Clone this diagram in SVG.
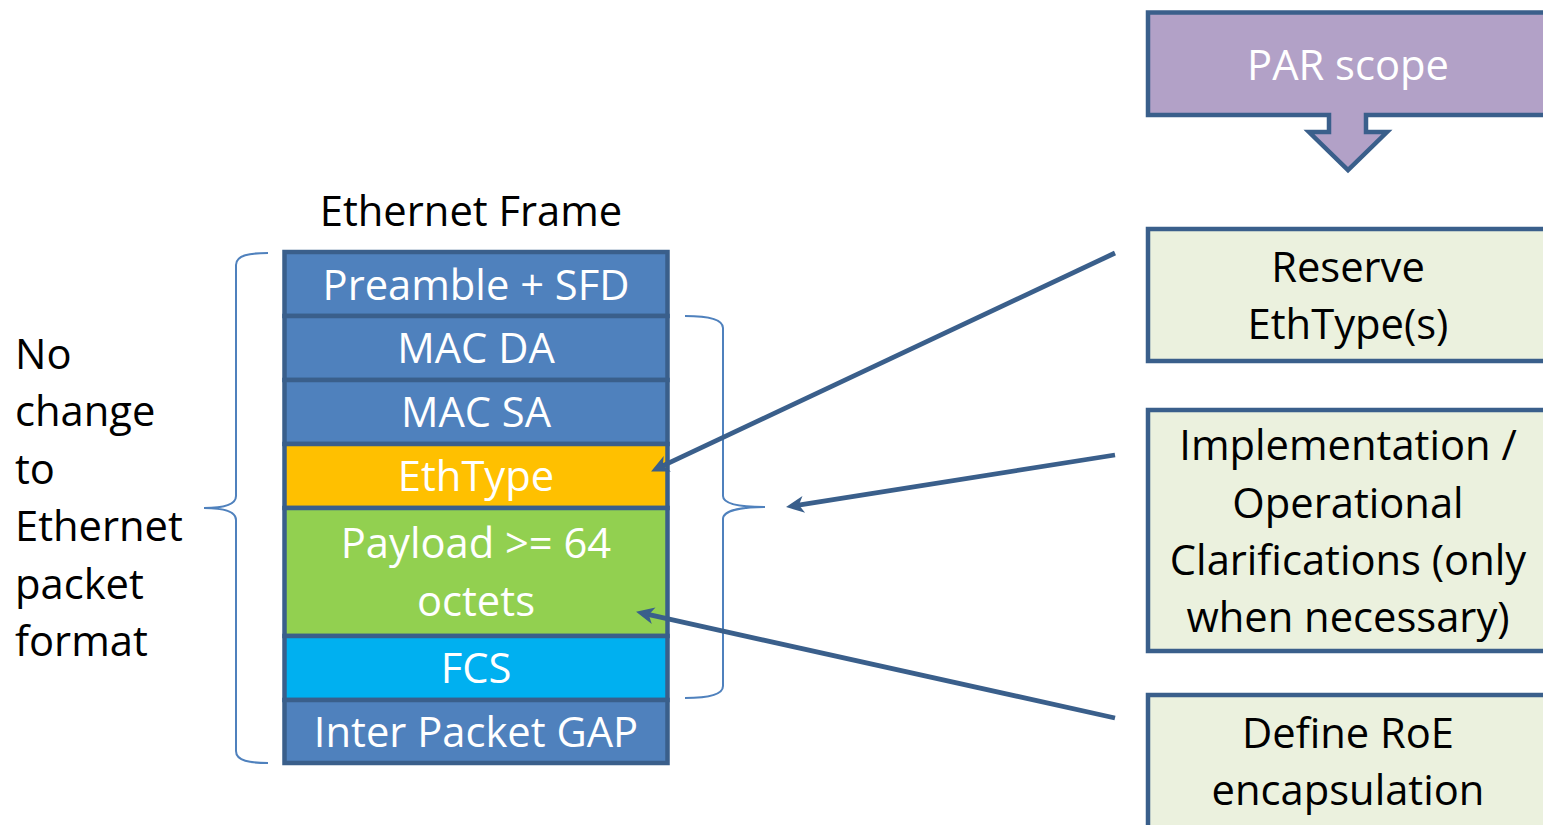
<svg xmlns="http://www.w3.org/2000/svg" width="1543" height="825" viewBox="0 0 1543 825">
<style>
text{font-family:"Open Sans","Noto Sans",sans-serif;font-size:41.7px;text-anchor:middle}
.w{fill:#ffffff}
.k{fill:#000000}
.row{stroke:#3a5f8b;stroke-width:4.5}
.blue{fill:#4f81bd}
.box{fill:#ebf1de;stroke:#3a5f8b;stroke-width:4.5}
.brace{fill:none;stroke:#4f81bd;stroke-width:2}
.arrow{fill:none;stroke:#3a5f8b;stroke-width:4.8}
</style>
<defs>
<marker id="ah" markerUnits="userSpaceOnUse" markerWidth="22" markerHeight="20" refX="7" refY="0" viewBox="0 -10 22 20" orient="auto" overflow="visible">
<path d="M0,-8.5 L18,0 L0,8.5 L5,0 Z" fill="#3a5f8b"/>
</marker>
</defs>
<rect width="1543" height="825" fill="#ffffff"/>

<g id="par-scope">
<path d="M1148,12.5 H1560 V115 H1366 V132 H1387 L1348,170 L1309,132 H1329 V115 H1148 Z" fill="#b2a1c7" stroke="#3a5f8b" stroke-width="4.5"/>
<text class="w" x="1348" y="80">PAR scope</text>
</g>

<g id="frame-title"><text class="k" x="471" y="226">Ethernet Frame</text></g>

<g id="row-preamble"><rect class="row blue" x="284.5" y="252" width="383" height="64"/><text class="w" x="476" y="300">Preamble + SFD</text></g>
<g id="row-macda"><rect class="row blue" x="284.5" y="316" width="383" height="64"/><text class="w" x="476" y="363">MAC DA</text></g>
<g id="row-macsa"><rect class="row blue" x="284.5" y="380" width="383" height="64"/><text class="w" x="476" y="427">MAC SA</text></g>
<g id="row-ethtype"><rect class="row" fill="#ffc000" x="284.5" y="444" width="383" height="64"/><text class="w" x="476" y="491">EthType</text></g>
<g id="row-payload"><rect class="row" fill="#92d050" x="284.5" y="508" width="383" height="128"/><text class="w" x="476" y="558">Payload &gt;= 64</text><text class="w" x="476" y="616">octets</text></g>
<g id="row-fcs"><rect class="row" fill="#00b0f0" x="284.5" y="636" width="383" height="64"/><text class="w" x="476" y="683">FCS</text></g>
<g id="row-ipg"><rect class="row blue" x="284.5" y="700" width="383" height="63"/><text class="w" x="476" y="747">Inter Packet GAP</text></g>

<g id="left-label">
<path class="brace" d="M268,253 C250,253 236,255 236,265 V496 C236,504 225,508 204,508 C225,508 236,512 236,520 V751 C236,761 250,763 268,763"/>
<text class="k" style="text-anchor:start" x="15" y="369">No</text>
<text class="k" style="text-anchor:start" x="15" y="426">change</text>
<text class="k" style="text-anchor:start" x="15" y="484">to</text>
<text class="k" style="text-anchor:start" x="15" y="541">Ethernet</text>
<text class="k" style="text-anchor:start" x="15" y="599">packet</text>
<text class="k" style="text-anchor:start" x="15" y="656">format</text>
</g>

<g id="right-brace">
<path class="brace" d="M685,316 C703,316 723,318 723,328 V496 C723,504 740,507 765,507 C740,507 723,511 723,519 V686 C723,696 703,698 685,698"/>
</g>

<g id="box-reserve">
<rect class="box" x="1148" y="229" width="420" height="132"/>
<text class="k" x="1348" y="282">Reserve</text>
<text class="k" x="1348" y="339">EthType(s)</text>
</g>

<g id="box-impl">
<rect class="box" x="1148" y="410" width="420" height="241"/>
<text class="k" x="1348" y="460">Implementation /</text>
<text class="k" x="1348" y="518">Operational</text>
<text class="k" x="1348" y="575">Clarifications (only</text>
<text class="k" x="1348" y="632">when necessary)</text>
</g>

<g id="box-define">
<rect class="box" x="1148" y="695" width="420" height="150"/>
<text class="k" x="1348" y="748">Define RoE</text>
<text class="k" x="1348" y="805">encapsulation</text>
</g>

<g id="connectors">
<path class="arrow" d="M1115,253 L661,466.7" marker-end="url(#ah)"/>
<path class="arrow" d="M1115,455 L796.9,505.4" marker-end="url(#ah)"/>
<path class="arrow" d="M1115,718 L646.8,614.2" marker-end="url(#ah)"/>
</g>
</svg>
